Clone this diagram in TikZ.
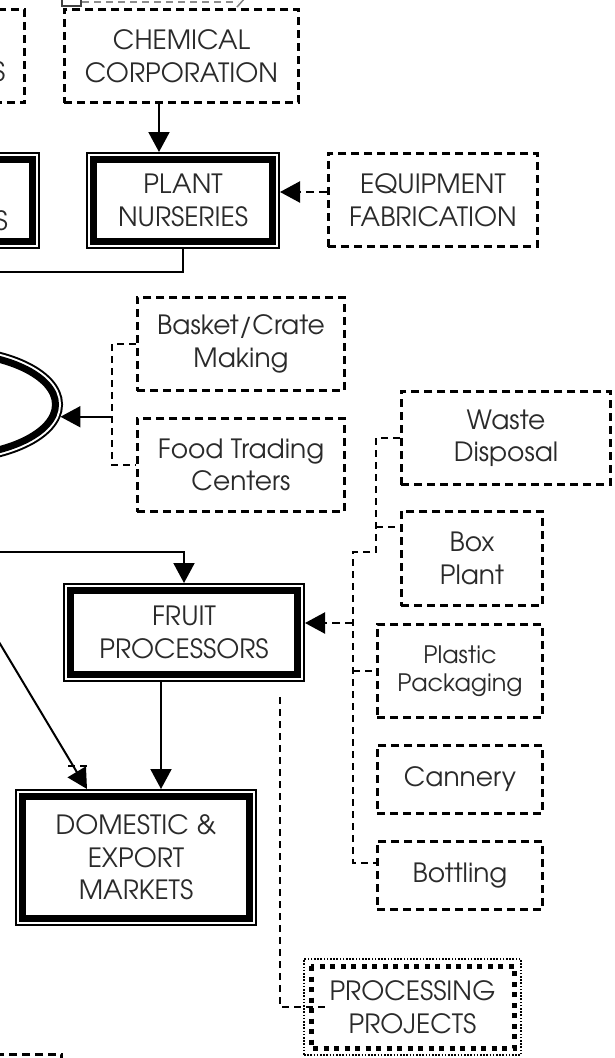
\documentclass[tikz,border=0pt]{standalone}
\usepackage{fontspec}
\setmainfont{TeX Gyre Adventor}
\usetikzlibrary{arrows.meta,shapes.geometric}
\definecolor{txtc}{HTML}{2A2A2A}
\tikzset{
  txt/.style={font=\fontsize{26.5}{32.5}\selectfont, text=txtc, align=center},
  dbox/.style={draw, line width=2.7pt, dash pattern=on 8pt off 5pt, inner sep=0pt, txt},
  bigbox/.style={draw, fill=white, line width=7pt, inner sep=0pt, outer sep=7.5pt, txt,
    preaction={draw, line width=15pt}, preaction={draw=white, line width=11pt}},
  procbox/.style={draw, line width=2pt, dash pattern=on 1.6pt off 1.6pt, inner sep=0pt, txt},
  sqdots/.style={line width=5pt, dash pattern=on 5pt off 5.5pt},
  conn/.style={line width=2pt},
  dconn/.style={line width=2.2pt, dash pattern=on 8pt off 5pt},
  thindash/.style={line width=1.6pt, dash pattern=on 7pt off 5pt},
  arr/.style={-{Triangle[length=20pt,width=21pt]}}
}
\begin{document}
\begin{tikzpicture}[x=1pt,y=-1pt]
\useasboundingbox (0,0) rectangle (615,1058);
\clip (0,0) rectangle (615,1058);

% fragments at the top edge
\draw[line width=1.5pt, black!75] (62,-2) -- (62,6) -- (81,6) -- (81,-2);
\draw[thindash, black!45] (82,2) -- (238,2);
\draw[line width=1.5pt, black!50] (237,7) -- (245,-2);

% nodes
\node[dbox, minimum width=200pt, minimum height=93.3pt] (ltop) at (-75.2,56) {};
\node[txt, inner sep=0pt, anchor=east] (ltS) at (5.5,72) {S};
\node[dbox, minimum width=234.3pt, minimum height=93.3pt] (chem) at (181.5,56) {CHEMICAL\\CORPORATION};
\node[bigbox, minimum width=180pt, minimum height=82pt] (lmid) at (-57.5,200.5) {};
\node[txt, inner sep=0pt, anchor=east] (lmS) at (8,221) {S};
\node[bigbox, minimum width=179pt, minimum height=82pt] (pn) at (183,200.5) {PLANT\\NURSERIES};
\node[dbox, minimum width=209.3pt, minimum height=93.3pt] (equip) at (433,200) {EQUIPMENT\\FABRICATION};
\node[bigbox, ellipse, minimum width=223pt, minimum height=104pt] (ell) at (-56,404.5) {};
\node[dbox, minimum width=207.3pt, minimum height=93.3pt] (basket) at (241,344) {Basket/Crate\\Making};
\node[dbox, minimum width=207.3pt, minimum height=93.3pt] (food) at (241,465) {Food Trading\\Centers};
\node[dbox, minimum width=209.3pt, minimum height=93.3pt] (waste) at (506,438) {Waste\\Disposal};
\node[dbox, minimum width=141.3pt, minimum height=94.3pt] (box) at (472,558.5) {Box\\Plant};
\node[dbox, minimum width=165.3pt, minimum height=93.3pt, font=\fontsize{24}{28.5}\selectfont] (plastic) at (460,671) {Plastic\\Packaging};
\node[dbox, minimum width=165.3pt, minimum height=68.3pt] (cannery) at (460,779.5) {Cannery};
\node[dbox, minimum width=165.3pt, minimum height=68.3pt] (bottling) at (460,875.5) {Bottling};
\node[bigbox, minimum width=227pt, minimum height=84pt] (fruit) at (184,632.5) {FRUIT\\PROCESSORS};
\node[bigbox, minimum width=227pt, minimum height=122pt] (dom) at (136,857.5) {DOMESTIC \&\\EXPORT\\MARKETS};
\node[procbox, minimum width=217pt, minimum height=96pt] (proc) at (412.5,1007) {PROCESSING\\PROJECTS};
\draw[sqdots] ([shift={(8,8)}]proc.north west) rectangle ([shift={(-8,-8)}]proc.south east);
\node[dbox, minimum width=200pt, minimum height=93.3pt] (lbot) at (-38.2,1101) {};

% connectors
\coordinate (ax) at (159,0);
\draw[conn, arr] (chem.south -| ax) -- (pn.north -| ax);
\coordinate (ay) at (0,192);
\draw[dconn, arr] (equip.west |- ay) -- (pn.east |- ay);
\coordinate (pnl) at (-5,272);
\draw[conn] (pn.south) |- (pnl);

\coordinate (bx) at (112,0);
\draw[thindash] (basket.west) -| (bx |- food.west) -- (food.west);
\draw[conn, arr] (bx |- ell.-6) -- (ell.-6);

\coordinate (w1) at (376,552);
\coordinate (w2) at (353,552);
\coordinate (w3) at (376,527);
\coordinate (by) at (0,863);
\draw[thindash] (waste.west) -| (w1) -- (w2) |- (bottling.west |- by);
\draw[thindash] (w3) -- (box.west |- w3);
\draw[thindash] (w2 |- plastic.west) -- (plastic.west);
\coordinate (fy) at (0,623);
\draw[dconn, arr] (w2 |- fy) -- (fruit.east |- fy);

\coordinate (lf) at (-5,552);
\draw[conn, arr] (lf) -| (fruit.north);
\coordinate (fx) at (161,0);
\draw[conn, arr] (fruit.south -| fx) -- (dom.north -| fx);
\coordinate (dg) at (-20,610.3);
\coordinate (dx) at (87,0);
\draw[conn, arr] (dg) -- (dom.north -| dx);
\coordinate (s1) at (68,766);
\coordinate (s2) at (91,766);
\draw[thindash] (s1) -- (s2);

\coordinate (pv) at (280,697);
\draw[thindash] (pv) |- ([xshift=26pt]proc.west);
\end{tikzpicture}
\end{document}
